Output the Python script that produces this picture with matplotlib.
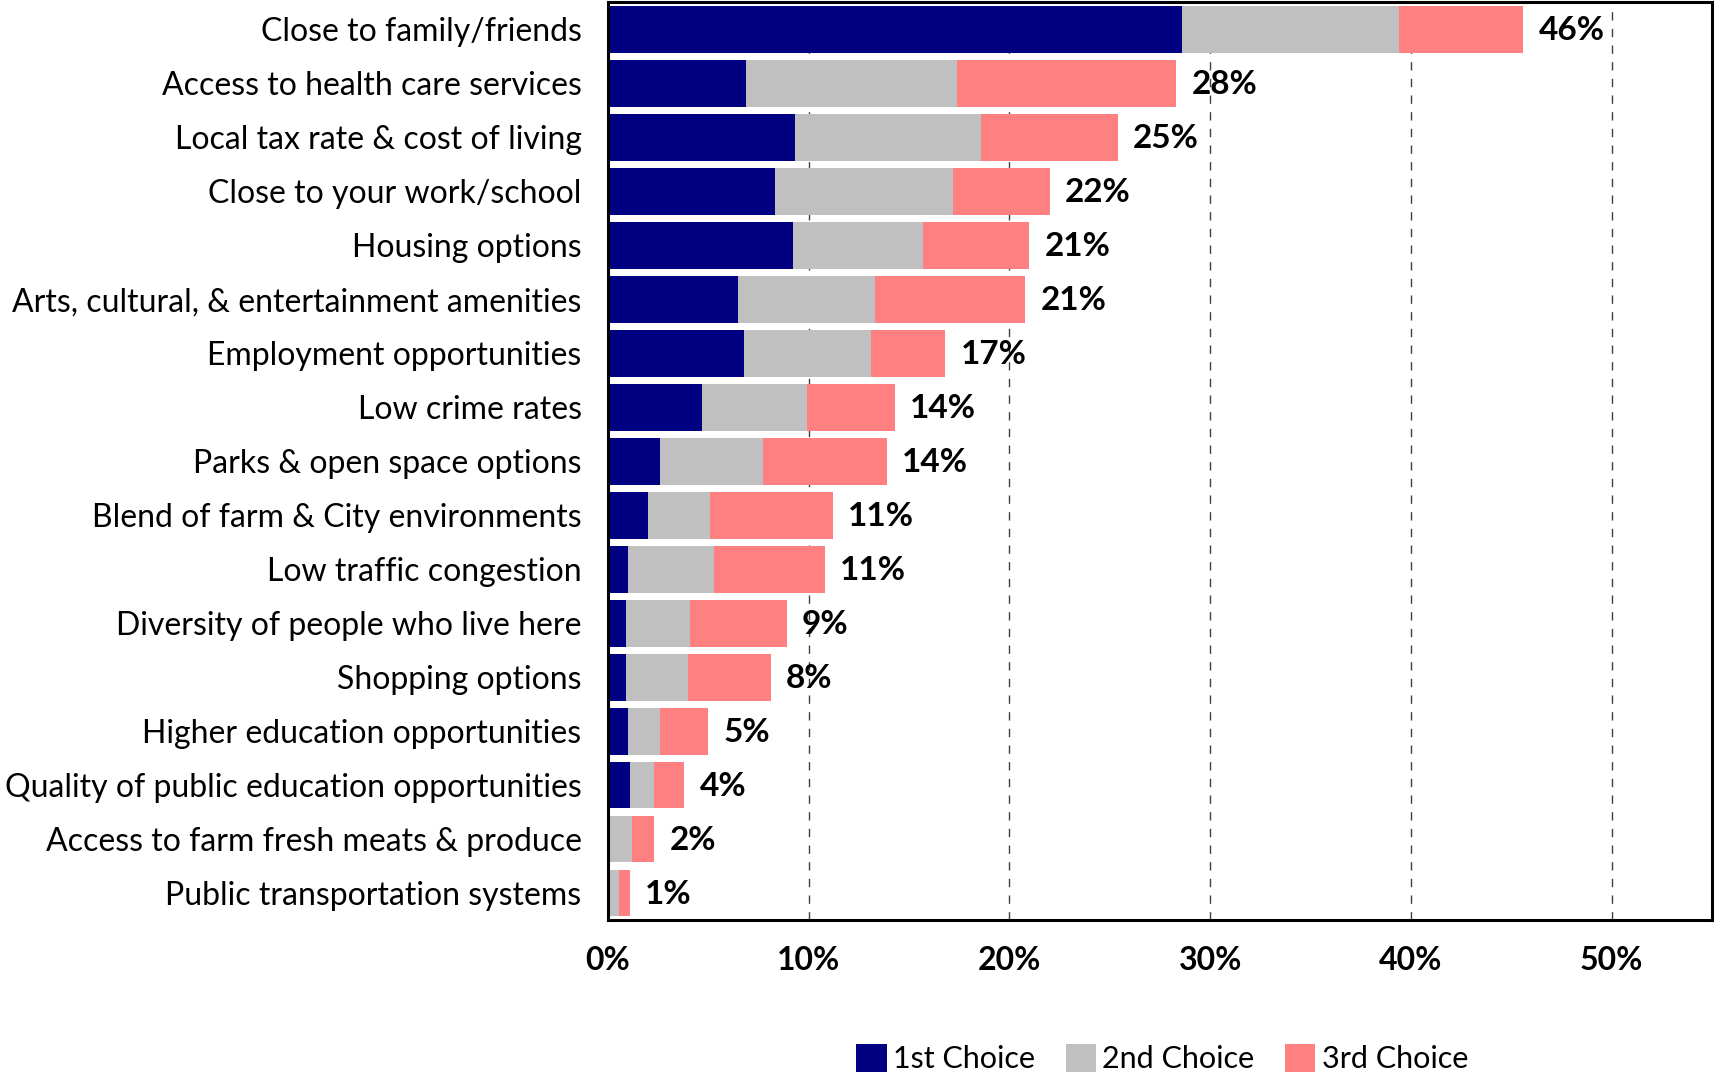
import matplotlib
matplotlib.use("Agg")
import matplotlib.pyplot as plt
import numpy as np

# 居住地を選んだ理由（上位3つの選択肢、回答者に占める割合 %）
categories = [
    "Close to family/friends",
    "Access to health care services",
    "Local tax rate & cost of living",
    "Close to your work/school",
    "Housing options",
    "Arts, cultural, & entertainment amenities",
    "Employment opportunities",
    "Low crime rates",
    "Parks & open space options",
    "Blend of farm & City environments",
    "Low traffic congestion",
    "Diversity of people who live here",
    "Shopping options",
    "Higher education opportunities",
    "Quality of public education opportunities",
    "Access to farm fresh meats & produce",
    "Public transportation systems",
]
first_choice = [28.6, 6.9, 9.3, 8.3, 9.2, 6.5, 6.8, 4.7, 2.6, 2.0, 1.0, 0.9, 0.9, 1.0, 1.1, 0.0, 0.0]
second_choice = [10.8, 10.5, 9.3, 8.9, 6.5, 6.8, 6.3, 5.2, 5.1, 3.1, 4.3, 3.2, 3.1, 1.6, 1.2, 1.2, 0.55]
third_choice = [6.2, 10.9, 6.8, 4.8, 5.3, 7.5, 3.7, 4.4, 6.2, 6.1, 5.5, 4.8, 4.1, 2.4, 1.5, 1.1, 0.55]
series_names = ["1st Choice", "2nd Choice", "3rd Choice"]
x_ticks = [0, 10, 20, 30, 40, 50]

colors = ["#000080", "#C0C0C0", "#FF8080"]

plt.rcParams["font.family"] = ["Lato", "DejaVu Sans"]

fig = plt.figure(figsize=(17.14, 10.74), dpi=100)
ax = fig.add_axes([0.3547, 0.1434, 0.6441, 0.8546])

y = np.arange(len(categories))
left = np.zeros(len(categories))
for vals, name, col in zip([first_choice, second_choice, third_choice], series_names, colors):
    vals = np.array(vals)
    ax.barh(y, vals, left=left, height=0.87, color=col, label=name, zorder=2)
    left += vals

# 合計値ラベル
for yi, total in zip(y, left):
    ax.annotate(f"{total:.0f}%", (total, yi), xytext=(11, -1), textcoords="offset points",
                ha="left", va="center", fontsize=24, fontweight="bold")

ax.set_xlim(0, 55)
ax.set_ylim(len(categories) - 0.5, -0.5)
ax.set_yticks(y)
ax.set_yticklabels(categories, fontsize=23)
ax.set_xticks(x_ticks)
ax.set_xticklabels([f"{t}%" for t in x_ticks], fontsize=23, fontweight="bold")
ax.tick_params(axis="y", length=0, pad=19)
ax.tick_params(axis="x", length=0, pad=19)

ax.xaxis.grid(True, color="#404040", linewidth=1.0, linestyle=(0, (6, 6)))
ax.set_axisbelow(True)
for s in ax.spines.values():
    s.set_linewidth(2.2)
    s.set_color("black")

fig.legend(loc="lower center", bbox_to_anchor=(0.678, -0.025), ncol=3, frameon=False,
           fontsize=22, handlelength=1.0, handleheight=1.0, handletextpad=0.2,
           columnspacing=1.0)

plt.savefig("out.png", dpi=100)
plt.close()
